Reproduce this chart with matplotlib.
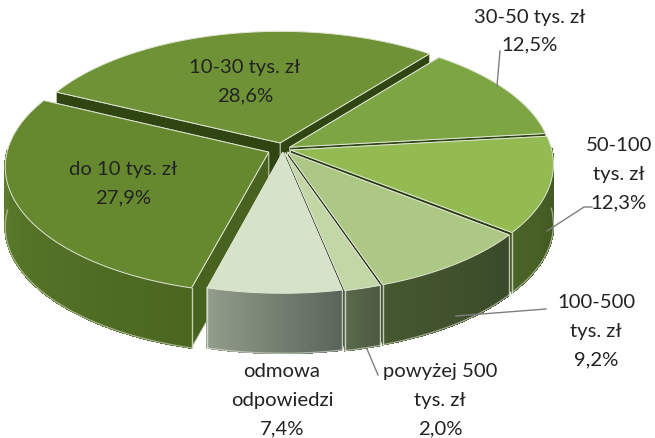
"""Exploded pseudo-3D pie of income shares, drawn from polygons in a pixel-sized axes."""
import numpy as np
import matplotlib
matplotlib.use("Agg")
import matplotlib.pyplot as plt
from matplotlib.collections import PolyCollection
from matplotlib.colors import to_rgb

# clockwise from the left edge of "10-30 tys. zl"
categories = ["10-30 tys. zł", "30-50 tys. zł", "50-100\ntys. zł", "100-500\ntys. zł",
              "powyżej 500\ntys. zł", "odmowa\nodpowiedzi", "do 10 tys. zł"]
shares = [28.6, 12.5, 12.3, 9.2, 2.0, 7.4, 27.9]

top_colors = ["#6f9237", "#7ea544", "#94ba52", "#adc785", "#c2d6a6", "#d7e3c8", "#66892f"]
wall_left = ["#4f6b22", "#4f6b22", "#4a6426", "#46582f", "#5a6a4c", "#929c8a", "#648431"]
wall_right = ["#3f5a18", "#3f5a18", "#3c5220", "#3a4a2a", "#4c5a40", "#59655a", "#4a6620"]
radial_color = ["#2f4512", "#2f4512", "#2c3f14", "#2a371c", "#333f28", "#3f4a38", "#47631f"]
explode = [0.05, 0.03, 0.03, 0.03, 0.03, 0.025, 0.06]

# label anchor (pixel centre of the first line), leader line points
label_xy = [(245, 68), (530, 17), (619, 146), (596, 303), (440, 372), (282, 372), (123, 170)]
leaders = [None, [(497, 87), (500, 52)], [(547, 232), (584, 208), (592, 208)],
           [(456, 317), (546, 310)], [(367, 350), (378, 376)], None, None]

CX, CY = 283, 150
RX, RY = 261, 125
PERSP = 0.109
DEPTH = 60
START = 154.5


def project(u, v):
    s = 1.0 / (1.0 + PERSP * v)
    return CX + RX * u * s, CY - RY * v * s


fig = plt.figure(figsize=(6.55, 4.39), dpi=100)
ax = fig.add_axes([0, 0, 1, 1])
ax.set_xlim(0, 655)
ax.set_ylim(439, 0)
ax.axis("off")
plt.rcParams["font.family"] = ["Lato", "DejaVu Sans"]

# wedge angles from the shares
total = sum(shares)
angles = [START]
for s in shares:
    angles.append(angles[-1] - 360.0 * s / total)

# back slices first, front slices last
order = [0, 1, 2, 6, 3, 4, 5]
for z, i in enumerate(order):
    a0, a1 = angles[i], angles[i + 1]
    mid = np.radians((a0 + a1) / 2)
    off = explode[i] * np.cos(mid), explode[i] * np.sin(mid)
    th = np.radians(np.linspace(a0, a1, 120))
    x, y = project(off[0] + np.cos(th), off[1] + np.sin(th))
    px, py = project(*off)

    # radial walls, the one further back first
    ends = sorted([(x[0], y[0]), (x[-1], y[-1])], key=lambda e: e[1])
    for ex, ey in ends:
        ax.fill([px, ex, ex, px], [py, ey, ey + DEPTH, py + DEPTH],
                color=radial_color[i], lw=0.6, ec="#cfd8c2", zorder=z * 3 + 1)

    # outer wall, only where the rim faces the viewer, shaded along the arc
    front = np.sin(th) <= 0.02
    quads, cols = [], []
    c0, c1 = np.array(to_rgb(wall_left[i])), np.array(to_rgb(wall_right[i]))
    n = len(x) - 1
    for k in range(n):
        if not (front[k] and front[k + 1]):
            continue
        t = 1 - k / n
        quads.append([(x[k], y[k]), (x[k + 1], y[k + 1]),
                      (x[k + 1], y[k + 1] + DEPTH), (x[k], y[k] + DEPTH)])
        cols.append(c0 * (1 - t) + c1 * t)
    if quads:
        ax.add_collection(PolyCollection(quads, facecolors=cols, edgecolors=cols, linewidths=0.8,
                                         antialiaseds=False, zorder=z * 3 + 2))
        ax.plot(x[front], y[front] + DEPTH, color="#dfe3d8", lw=0.9, alpha=0.6, zorder=z * 3 + 2)
        for k in (0, n):
            if front[k]:
                ax.plot([x[k], x[k]], [y[k], y[k] + DEPTH], color="#e4e9dc", lw=1.0, alpha=0.8,
                        zorder=z * 3 + 2)

    # top face
    ax.fill(np.r_[px, x], np.r_[py, y], fc=top_colors[i], ec="#dfe6d4", lw=0.7, zorder=z * 3 + 3)

# labels
for cat, share, (lx, ly), lead in zip(categories, shares, label_xy, leaders):
    lines = cat.split("\n") + [f"{share:.1f}%".replace(".", ",")]
    for j, line in enumerate(lines):
        ax.text(lx, ly + j * 28.3, line, ha="center", va="center", fontsize=14.6,
                color="#222222", zorder=40)
    if lead is not None:
        xs, ys = zip(*lead)
        ax.plot(xs, ys, color="#7f7f7f", lw=1.0, zorder=39)

fig.savefig("out.png", dpi=100)
